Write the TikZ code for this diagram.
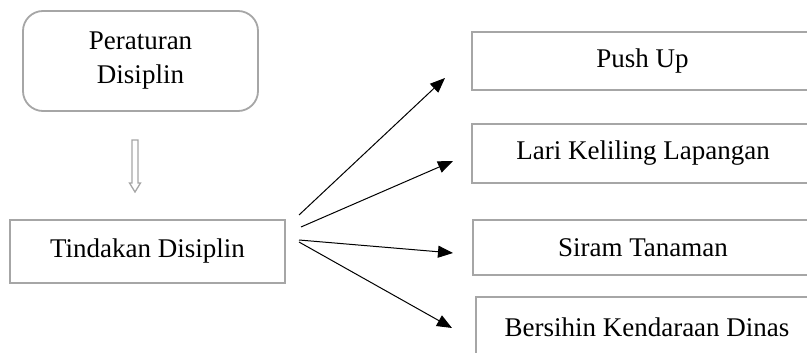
\documentclass[tikz,border=0pt]{standalone}
\usepackage{fontspec}
\setmainfont{Liberation Serif}
\usetikzlibrary{arrows.meta}
\definecolor{boxgray}{HTML}{A6A6A6}
\tikzset{
  x=1pt, y=-1pt,
  box/.style={draw=boxgray, line width=1.8pt, rectangle, inner sep=0pt, align=center,
    font=\fontsize{27}{34}\selectfont},
  conn/.style={-{Triangle[length=15pt,width=12pt]}, line width=1pt, black},
  hollow/.style={draw=boxgray, line width=1.3pt, fill=white, line join=miter}
}
\begin{document}
\begin{tikzpicture}
\useasboundingbox (0,0) rectangle (807,353);
\clip (0,0) rectangle (807,353);
\node[box, rounded corners=20pt, minimum width=235pt, minimum height=100pt] (rules) at (140.5,61) {Peraturan\\Disiplin};
\node[box, minimum width=275pt, minimum height=63pt] (tind) at (147.5,251.5) {Tindakan Disiplin};
\node[box, minimum width=341pt, minimum height=58pt] (push) at (642.5,61) {Push Up};
\node[box, minimum width=342pt, minimum height=59pt] (lari) at (643,153.5) {Lari Keliling Lapangan};
\node[box, minimum width=340pt, minimum height=55pt] (siram) at (643,247.5) {Siram Tanaman};
\node[box, minimum width=342pt, minimum height=61pt] (bersih) at (647,327.5) {Bersihin Kendaraan Dinas};
% hollow down arrow
\draw[hollow] (132,140) -- (138,140) -- (138,183) -- (140.5,183) -- (135,192) -- (129.5,183) -- (132,183) -- cycle;
% connector coordinates
\coordinate (s1) at (299,215);
\coordinate (s2) at (301,227);
\coordinate (s3) at (299,240);
\coordinate (s4) at (299,242);
\coordinate (e1) at (445,78);
\coordinate (e2) at (453,161);
\coordinate (e3) at (453,253);
\coordinate (e4) at (452,328);
\draw[conn] (s1) -- (e1);
\draw[conn] (s2) -- (e2);
\draw[conn] (s3) -- (e3);
\draw[conn] (s4) -- (e4);
\end{tikzpicture}
\end{document}
